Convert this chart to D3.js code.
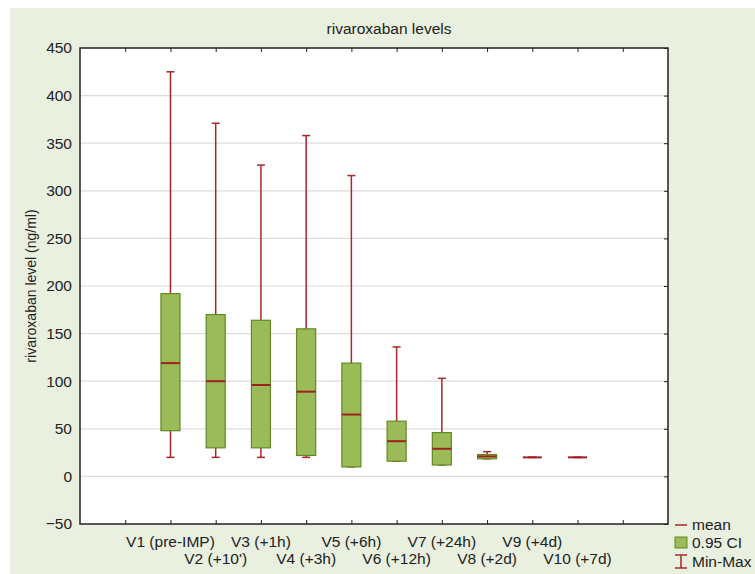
<!DOCTYPE html>
<html>
<head>
<meta charset="utf-8">
<script src="https://cdn.jsdelivr.net/npm/d3@7"></script>
<style>
  body { margin: 0; background: #fff; }
  text { font-family: "Liberation Sans", Arial, sans-serif; fill: #222; }
</style>
</head>
<body>
<svg id="chart" width="755" height="574"></svg>
<script>
// data
var visits = ["V1 (pre-IMP)", "V2 (+10')", "V3 (+1h)", "V4 (+3h)", "V5 (+6h)",
              "V6 (+12h)", "V7 (+24h)", "V8 (+2d)", "V9 (+4d)", "V10 (+7d)"];
var means = [119, 100, 96, 89, 65, 37, 29, 21, 20, 20];
var ciLow = [48, 30, 30, 22, 10, 16, 12, 18.5, 20, 20];
var ciHigh = [192, 170, 164, 155, 119, 58, 46, 23, 20, 20];
var minVals = [20, 20, 20, 20, 10, 16, 12, 18.5, 20, 20];
var maxVals = [425, 371, 327, 358, 316, 136, 103, 26, 20, 20];
var yTicks = [-50, 0, 50, 100, 150, 200, 250, 300, 350, 400, 450];

var svg = d3.select("#chart");
var margin = {top: 48, right: 87, bottom: 50, left: 80};
var plotW = 755 - margin.left - margin.right;
var plotH = 574 - margin.top - margin.bottom;

// background panel
svg.append("rect")
  .attr("x", 10).attr("y", 8)
  .attr("width", 745).attr("height", 566)
  .attr("fill", "#e9f0df");

var g = svg.append("g")
  .attr("transform", "translate(" + margin.left + "," + margin.top + ")");

g.append("rect")
  .attr("width", plotW).attr("height", plotH)
  .attr("fill", "#fff");

// scales: 13 slots, categories sit on slots 2..11
var x = d3.scaleLinear().domain([0, 13]).range([0, plotW]);
var y = d3.scaleLinear().domain([-50, 450]).range([plotH, 0]);
var boxW = 19;
var capW = 8;

// gridlines
g.selectAll(".grid")
  .data(yTicks.filter(d => d > -50 && d < 450))
  .enter().append("line")
  .attr("x1", 0).attr("x2", plotW)
  .attr("y1", d => y(d)).attr("y2", d => y(d))
  .attr("stroke", "#dcdcdc")
  .attr("stroke-width", 1.2);

// left axis
var yAxis = d3.axisLeft(y).tickValues(yTicks).tickSize(0).tickPadding(8);
g.append("g")
  .call(yAxis)
  .call(a => a.select(".domain").remove())
  .selectAll("text")
  .attr("font-size", "15.5px")
  .attr("fill", "#222");

// right axis: inward ticks
var rAxis = d3.axisLeft(y).tickValues(yTicks).tickSize(4).tickFormat("");
g.append("g")
  .attr("transform", "translate(" + plotW + ",0)")
  .call(rAxis)
  .call(a => a.select(".domain").remove())
  .selectAll("line").attr("stroke", "#222");

// top and bottom ticks (inward)
var xTicks = d3.range(1, 13);
g.append("g")
  .call(d3.axisBottom(x).tickValues(xTicks).tickSize(4).tickFormat(""))
  .call(a => a.select(".domain").remove())
  .selectAll("line").attr("stroke", "#222");
g.append("g")
  .attr("transform", "translate(0," + plotH + ")")
  .call(d3.axisTop(x).tickValues(xTicks).tickSize(4).tickFormat(""))
  .call(a => a.select(".domain").remove())
  .selectAll("line").attr("stroke", "#222");

// x labels, alternating rows
g.selectAll(".xlab")
  .data(visits)
  .enter().append("text")
  .attr("x", (d, i) => x(i + 2))
  .attr("y", (d, i) => plotH + (i % 2 === 0 ? 23 : 40))
  .attr("text-anchor", "middle")
  .attr("font-size", "15.5px")
  .text(d => d);

var boxes = g.selectAll(".box")
  .data(visits)
  .enter().append("g")
  .attr("transform", (d, i) => "translate(" + x(i + 2) + ",0)");

var red = "#a8282a";

// whiskers
boxes.append("line")
  .attr("y1", (d, i) => y(maxVals[i]))
  .attr("y2", (d, i) => y(minVals[i]))
  .attr("stroke", red).attr("stroke-width", 1.5);
boxes.append("line")
  .attr("x1", -capW / 2).attr("x2", capW / 2)
  .attr("y1", (d, i) => y(maxVals[i])).attr("y2", (d, i) => y(maxVals[i]))
  .attr("stroke", red).attr("stroke-width", 1.5);
boxes.append("line")
  .attr("x1", -capW / 2).attr("x2", capW / 2)
  .attr("y1", (d, i) => y(minVals[i])).attr("y2", (d, i) => y(minVals[i]))
  .attr("stroke", red).attr("stroke-width", 1.5);

// CI boxes
boxes.append("rect")
  .attr("x", -boxW / 2)
  .attr("width", boxW)
  .attr("y", (d, i) => y(ciHigh[i]))
  .attr("height", (d, i) => y(ciLow[i]) - y(ciHigh[i]))
  .attr("fill", "#9bbb59")
  .attr("stroke", "#5e8a24")
  .attr("stroke-width", 1.2);

// means
boxes.append("line")
  .attr("x1", -boxW / 2).attr("x2", boxW / 2)
  .attr("y1", (d, i) => y(means[i])).attr("y2", (d, i) => y(means[i]))
  .attr("stroke", "#a02020").attr("stroke-width", 2);

// frame
g.append("rect")
  .attr("width", plotW).attr("height", plotH)
  .attr("fill", "none")
  .attr("stroke", "#222")
  .attr("stroke-width", 1.5);

// title
svg.append("text")
  .attr("x", margin.left + plotW / 2 + 15)
  .attr("y", 34)
  .attr("text-anchor", "middle")
  .attr("font-size", "15.5px")
  .text("rivaroxaban levels");

// y label
svg.append("text")
  .attr("transform", "rotate(-90)")
  .attr("x", -(margin.top + plotH / 2))
  .attr("y", 36)
  .attr("text-anchor", "middle")
  .attr("font-size", "14px")
  .text("rivaroxaban level (ng/ml)");

// legend
var lg = svg.append("g").attr("transform", "translate(670,0)");
lg.append("line")
  .attr("x1", 5).attr("x2", 17).attr("y1", 525).attr("y2", 525)
  .attr("stroke", red).attr("stroke-width", 1.5);
lg.append("text").attr("x", 22).attr("y", 530).attr("font-size", "15.5px").text("mean");
lg.append("rect")
  .attr("x", 5).attr("y", 537).attr("width", 12).attr("height", 11)
  .attr("fill", "#9bbb59").attr("stroke", "#5e8a24");
lg.append("text").attr("x", 22).attr("y", 548).attr("font-size", "15.5px").text("0.95 CI");
lg.append("path")
  .attr("d", "M5,555H17M11,555V568M5,568H17")
  .attr("fill", "none").attr("stroke", red).attr("stroke-width", 1.5);
lg.append("text").attr("x", 22).attr("y", 567).attr("font-size", "15.5px").text("Min-Max");
</script>
</body>
</html>
